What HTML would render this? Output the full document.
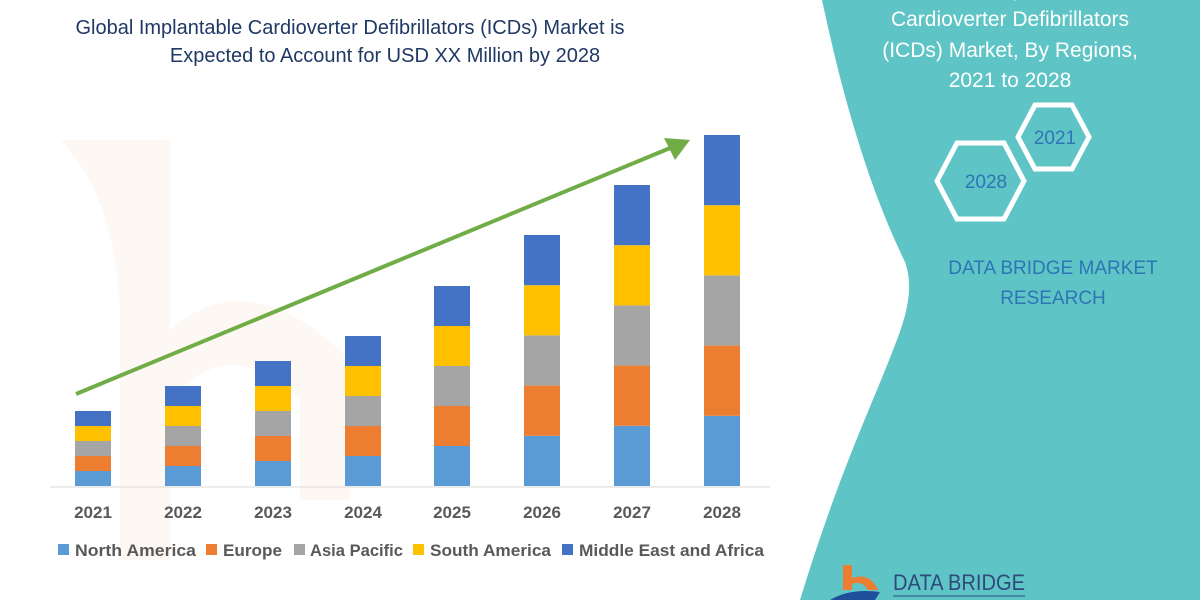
<!DOCTYPE html>
<html><head><meta charset="utf-8"><style>
body{margin:0;width:1200px;height:600px;overflow:hidden;background:#fff;font-family:"Liberation Sans",sans-serif}
</style></head><body>
<svg width="1200" height="600" xmlns="http://www.w3.org/2000/svg" style="position:absolute;left:0;top:0">
<path d="M60 140 Q120 200 120 330 L120 560 L170 560 L170 400 Q230 330 300 400 L300 500 L350 500 L350 360 Q250 260 170 330 L170 140 Z" fill="#fbe7dc" opacity="0.3"/>
<path d="M822 0 C835 60 860 170 905 262 C915 290 905 320 893 350 C870 410 840 470 800 600 L1200 600 L1200 0 Z" fill="#5fc4c6"/>
<g font-size="20" fill="#1f3864" text-anchor="middle">
<text x="350" y="34">Global Implantable Cardioverter Defibrillators (ICDs) Market is</text>
<text x="385" y="62">Expected to Account for USD XX Million by 2028</text>
</g>
<g font-size="21" fill="#fff" text-anchor="middle">
<text x="1010" y="-4">Global Implantable</text>
<text x="1010" y="26">Cardioverter Defibrillators</text>
<text x="1010" y="57">(ICDs) Market, By Regions,</text>
<text x="1010" y="87">2021 to 2028</text>
</g>
<polygon points="1018,137 1035,105 1072,105 1089,137 1072,169 1035,169" fill="none" stroke="#fff" stroke-width="5"/>
<polygon points="937,181 957,143 1004,143 1024,181 1004,219 957,219" fill="none" stroke="#fff" stroke-width="5"/>
<g font-size="19" fill="#2e75b6" text-anchor="middle">
<text x="1055" y="144">2021</text>
<text x="986" y="188">2028</text>
<text x="1053" y="274">DATA BRIDGE MARKET</text>
<text x="1053" y="304">RESEARCH</text>
</g>
<line x1="50" y1="487" x2="770" y2="487" stroke="#d9d9d9" stroke-width="1"/>
<g id="bars"></g>
<line x1="76" y1="394" x2="675" y2="146" stroke="#70ad47" stroke-width="4"/>
<polygon points="690,140 664,138 675,160" fill="#70ad47"/>
<g font-size="17" font-weight="bold" fill="#595959" text-anchor="middle">
<text x="93" y="518">2021</text><text x="183" y="518">2022</text><text x="273" y="518">2023</text><text x="363" y="518">2024</text>
<text x="452" y="518">2025</text><text x="542" y="518">2026</text><text x="632" y="518">2027</text><text x="722" y="518">2028</text>
</g>
<g font-size="17" font-weight="bold" fill="#595959">
<rect x="58" y="544" width="11" height="11" fill="#5b9bd5"/><text x="75" y="556" textLength="121" lengthAdjust="spacingAndGlyphs">North America</text>
<rect x="206" y="544" width="11" height="11" fill="#ed7d31"/><text x="223" y="556" textLength="59" lengthAdjust="spacingAndGlyphs">Europe</text>
<rect x="294" y="544" width="11" height="11" fill="#a5a5a5"/><text x="310" y="556" textLength="93" lengthAdjust="spacingAndGlyphs">Asia Pacific</text>
<rect x="413" y="544" width="11" height="11" fill="#ffc000"/><text x="430" y="556" textLength="121" lengthAdjust="spacingAndGlyphs">South America</text>
<rect x="562" y="544" width="11" height="11" fill="#4472c4"/><text x="579" y="556" textLength="185" lengthAdjust="spacingAndGlyphs">Middle East and Africa</text>
</g>
<path d="M843 565 L852 565 L852 578 Q870 572 878 590 L868 590 Q862 580 852 584 L852 590 L843 590 Z" fill="#ed7d31"/>
<path d="M830 600 Q850 588 880 592 L875 600 Z" fill="#1f4e9a"/>
<text x="893" y="590" font-size="22" fill="#2f4a7a" textLength="132" lengthAdjust="spacingAndGlyphs">DATA BRIDGE</text>
<line x1="893" y1="596" x2="1025" y2="596" stroke="#2f4a7a" stroke-width="1"/>
</svg>
<script>
var g=document.getElementById('bars');
var xs=[93,183,273,363,452,542,632,722],tops=[411,386,361,336,286,235,185,135];
var cols=['#5b9bd5','#ed7d31','#a5a5a5','#ffc000','#4472c4'];
var s='';
for(var i=0;i<8;i++){var h=(486-tops[i])/5;for(var k=0;k<5;k++){s+='<rect x="'+(xs[i]-18)+'" y="'+(486-h*(k+1))+'" width="36" height="'+h+'" fill="'+cols[k]+'"/>';}}
g.innerHTML=s;
</script>
</body></html>
